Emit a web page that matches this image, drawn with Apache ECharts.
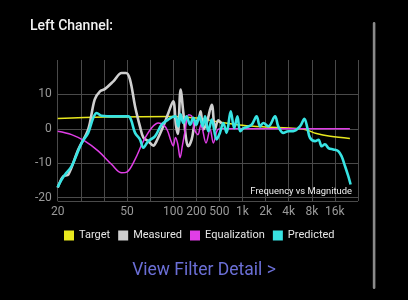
<!DOCTYPE html>
<html>
<head>
<meta charset="utf-8">
<script src="https://cdn.jsdelivr.net/npm/echarts@6/dist/echarts.min.js"></script>
<style>
html,body{margin:0;padding:0;background:#000;}
#c{width:408px;height:300px;}
</style>
</head>
<body>
<div id="c"></div>
<script>
// x positions are in the chart's own frequency-axis units (one grid step per tick)
const tickLabels = ['20','','','50','','100','200','500','1k','2k','4k','8k','16k',''];
const seriesNames = ['Target','Measured','Equalization','Predicted'];

const targetX = [0, 2.0, 5.0, 6.0, 7.0, 8.0, 9.0, 10.0, 10.7, 11.2, 11.8, 12.65];
const targetY = [3.0, 3.4, 3.6, 3.1, 2.0, 1.0, 0.5, 0.2, -0.2, -1.4, -2.2, -2.8];

const measuredX = [0, 0.24, 0.46, 0.89, 1.32, 1.6, 1.83, 2.05, 2.41, 2.77, 2.96, 3.13, 3.35, 3.56, 3.71, 3.92, 4.14, 4.28, 4.57, 4.79, 5.0, 5.12, 5.2, 5.32, 5.44, 5.56, 5.65, 5.8, 5.94, 6.09, 6.19, 6.3, 6.45, 6.67, 6.81, 6.95, 7.1];
const measuredY = [-17.1, -13.8, -13.3, -6.0, -0.2, 8.5, 10.9, 11.6, 13.8, 16.2, 16.2, 14.3, 6.5, 0.7, -2.6, -3.6, -4.9, -3.6, 0.7, 4.6, 8.0, 1.0, -1.5, 11.4, 4.6, -3.0, -5.1, -3.1, 1.7, 2.7, 5.1, -0.2, 1.7, 7.0, -0.2, 2.5, 1.5];

const eqX = [0, 0.6, 1.18, 1.76, 2.34, 2.77, 2.99, 3.35, 3.71, 4.07, 4.36, 4.57, 4.75, 4.9, 5.0, 5.1, 5.2, 5.3, 5.4, 5.5, 5.67, 5.81, 5.92, 6.07, 6.2, 6.42, 6.6, 6.74, 6.93, 7.1, 12.65];
const eqY = [-0.7, -1.7, -3.6, -6.5, -10.4, -12.8, -12.6, -8.9, -3.6, 0.3, 1.7, 1.2, -0.5, -3.5, -5.0, -2.5, -4.5, -8.4, -4.8, -1.2, 4.1, 3.6, -0.2, -1.7, 1.2, -4.1, -0.2, -4.1, -0.2, 0, 0];

const predX = [0, 0.15, 0.32, 0.6, 1.04, 1.32, 1.54, 1.69, 1.9, 2.48, 3.06, 3.17, 3.35, 3.56, 3.71, 3.92, 4.21, 4.5, 4.79, 4.95, 5.1, 5.22, 5.32, 5.44, 5.58, 5.73, 5.87, 6.0, 6.13, 6.28, 6.38, 6.52, 6.67, 6.88, 7.02, 7.17, 7.31, 7.49, 7.64, 7.78, 7.9, 8.05, 8.2, 8.4, 8.61, 8.76, 8.9, 9.12, 9.41, 9.55, 9.77, 9.98, 10.2, 10.49, 10.68, 10.81, 10.92, 11.14, 11.29, 11.43, 11.57, 11.72, 11.93, 12.15, 12.29, 12.44, 12.58, 12.68];
const predY = [-17.0, -15.0, -13.3, -10.9, -4.1, -1.2, 3.2, 4.6, 3.8, 3.6, 3.6, 2.7, -1.2, -3.1, -5.5, -3.6, -2.2, 1.2, 2.7, 3.4, 3.6, 0.7, 4.2, 1.7, 3.6, 1.2, 3.2, 1.2, 3.6, 0.7, 3.6, -0.7, 2.7, -3.1, -1.2, 1.7, -1.2, 5.1, 0.2, 3.6, -0.7, 0.2, 0.5, 1.2, 3.6, 0.7, 1.7, 0.7, 3.6, 0.7, -1.2, -0.7, -0.7, 0.7, 2.9, 0.2, -2.6, -3.6, -3.2, -5.1, -4.5, -5.6, -6.0, -6.5, -8.0, -10.9, -13.8, -16.2];

const yLabelValues = [-20, -10, 0, 10];

function pairs(xs, ys){ return xs.map((x,i)=>[x, ys[i]]); }

const colors = ['#e8e81e', '#cfcfcf', '#e03ee6', '#38e3e3'];
const widths = [1.5, 2.6, 1.5, 2.6];
const datas = [pairs(targetX,targetY), pairs(measuredX,measuredY), pairs(eqX,eqY), pairs(predX,predY)];

const chart = echarts.init(document.getElementById('c'), null, {renderer:'canvas'});
chart.setOption({
  backgroundColor: '#000',
  animation: false,
  textStyle: {fontFamily: 'Roboto'},
  grid: {left: 57.7, right: 50, top: 60, bottom: 99, containLabel: false},
  legend: {
    data: seriesNames,
    left: 59, top: 225,
    icon: 'rect', itemWidth: 10, itemHeight: 10, itemGap: 8,
    textStyle: {color: '#e6e6e6', fontSize: 11, fontFamily: 'Roboto'}
  },
  xAxis: {
    type: 'value', min: 0, max: 13, interval: 1,
    axisLine: {show: true, lineStyle: {color: '#4a4a4a', width: 1}},
    axisTick: {show: false},
    axisLabel: {color: '#9a9a9a', fontSize: 12, margin: 5,
      formatter: v => tickLabels[Math.round(v)] || ''},
    splitLine: {show: true, lineStyle: {color: '#4a4a4a', width: 1}}
  },
  yAxis: {
    type: 'value', min: -21, max: 20, splitNumber: 4,
    axisLine: {show: false}, axisTick: {show: false},
    axisLabel: {color: '#9a9a9a', fontSize: 12, margin: 6,
      formatter: v => yLabelValues.indexOf(v) >= 0 ? String(v) : ''},
    splitLine: {show: true, showMaxLine: false, lineStyle: {color: '#4a4a4a', width: 1}}
  },
  series: seriesNames.map((n,i)=>({
    name: n, type: 'line', data: datas[i], smooth: 0.35, symbol: 'none',
    lineStyle: {color: colors[i], width: widths[i]}, itemStyle: {color: colors[i]}, z: 2+i
  })),
  graphic: [
    {type:'text', left: 30, top: 19, style:{text:'Left Channel:', fill:'#f2f2f2', font:'500 14px Roboto'}},
    {type:'text', x: 352, y: 192, z: 50, style:{text:'Frequency vs Magnitude', fill:'#f0f0f0', font:'9.4px Roboto', textAlign:'right', textVerticalAlign:'middle'}},
    {type:'text', x: 204, y: 271, style:{text:'View Filter Detail >', fill:'#6b6fd6', font:'17.5px Roboto', textAlign:'center', textVerticalAlign:'middle'}},
    {type:'rect', shape:{x:372.8, y:22, width:2.6, height:267, r:1.3}, style:{fill:'#8a8a8a'}}
  ]
});
</script>
</body>
</html>
